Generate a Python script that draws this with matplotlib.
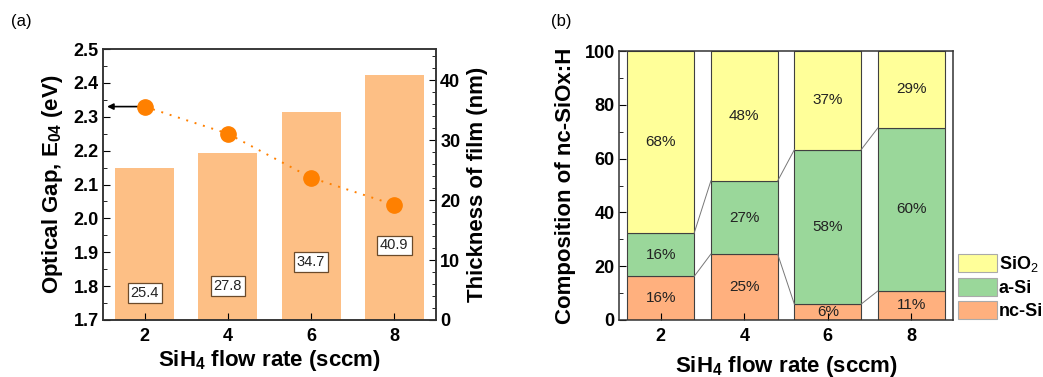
import numpy as np
import matplotlib
matplotlib.use("Agg")
import matplotlib.pyplot as plt
from matplotlib.ticker import MultipleLocator

plt.rcParams["font.family"] = ["Liberation Sans", "DejaVu Sans"]
plt.rcParams["mathtext.fontset"] = "custom"
plt.rcParams["mathtext.rm"] = "Liberation Sans"
plt.rcParams["mathtext.bf"] = "Liberation Sans:bold"

# (a) optical gap and thickness
flow = [2, 4, 6, 8]
e04 = [2.33, 2.25, 2.12, 2.04]
thickness = [25.4, 27.8, 34.7, 40.9]
thick_labels = ["25.4", "27.8", "34.7", "40.9"]
label_y = [1.78, 1.80, 1.87, 1.92]  # where the boxed values sit (left axis units)

# (b) composition
nc_si = [16.2, 24.5, 5.9, 10.8]
a_si = [16.1, 27.2, 57.4, 60.6]
sio2 = [100 - n - a for n, a in zip(nc_si, a_si)]
nc_lab = ["16%", "25%", "6%", "11%"]
a_lab = ["16%", "27%", "58%", "60%"]
sio2_lab = ["68%", "48%", "37%", "29%"]

BAR_C = "#fdbf85"
DOT_C = "#ff8000"
Y_C, G_C, O_C = "#ffff99", "#9ad79a", "#ffb07e"
EDGE = "#404040"
LBL = 16
TCK = 13

fig = plt.figure(figsize=(10.43, 3.77), dpi=100)
ax1 = fig.add_axes([0.0988, 0.1512, 0.3192, 0.7188])
ax2 = fig.add_axes([0.5935, 0.1512, 0.3202, 0.7135])


def style(ax):
    for s in ax.spines.values():
        s.set_linewidth(1.1)
        s.set_color("#333333")
    for lab in ax.get_xticklabels() + ax.get_yticklabels():
        lab.set_fontweight("bold")


# ---- panel (a)
ax1r = ax1.twinx()
ax1.set_zorder(ax1r.get_zorder() + 1)
ax1.patch.set_visible(False)
ax1r.bar(flow, thickness, width=1.42, color=BAR_C, edgecolor="none")
ax1r.set_ylim(0, 45.2)
ax1r.yaxis.set_major_locator(MultipleLocator(10))
ax1r.yaxis.set_minor_locator(MultipleLocator(2))
ax1r.tick_params(axis="y", which="major", direction="in", length=5, labelsize=TCK, pad=3)
ax1r.tick_params(axis="y", which="minor", direction="in", length=3)
ax1r.set_ylabel("Thickness of film (nm)", fontsize=LBL, fontweight="bold", labelpad=5)

ax1.plot(flow, e04, color=DOT_C, lw=1.4, dashes=(1, 3.5))
ax1.plot(flow, e04, "o", color=DOT_C, ms=11, zorder=5)
ax1.annotate("", xy=(1.03, e04[0]), xytext=(flow[0] - 0.1, e04[0]),
             arrowprops=dict(arrowstyle="-|>", color="black", lw=1.2, mutation_scale=9))
for x, y, t in zip(flow, label_y, thick_labels):
    ax1.text(x, y, t, ha="center", va="center", fontsize=10.5, color="#222222",
             bbox=dict(boxstyle="square,pad=0.2", fc="white", ec="#6b4a2a", lw=0.9))
ax1.set_xlim(1.0, 9.0)
ax1.set_ylim(1.7, 2.5)
ax1.set_xticks(flow)
ax1.yaxis.set_major_locator(MultipleLocator(0.1))
ax1.yaxis.set_minor_locator(MultipleLocator(0.05))
ax1.tick_params(axis="both", which="major", direction="in", length=5, labelsize=TCK, pad=3)
ax1.tick_params(axis="x", pad=6)
ax1.tick_params(axis="y", which="minor", direction="in", length=3)
ax1.set_ylabel("Optical Gap, E$_{\\mathbf{04}}$ (eV)", fontsize=LBL, fontweight="bold", labelpad=6)
ax1.set_xlabel("SiH$_{\\mathbf{4}}$ flow rate (sccm)", fontsize=LBL, fontweight="bold", labelpad=2)
style(ax1)
style(ax1r)
fig.text(0.011, 0.93, "(a)", fontsize=12)

# ---- panel (b)
w = 1.6
b1 = ax2.bar(flow, nc_si, width=w, color=O_C, edgecolor=EDGE, lw=0.8, label="nc-Si")
bot2 = nc_si
b2 = ax2.bar(flow, a_si, width=w, bottom=bot2, color=G_C, edgecolor=EDGE, lw=0.8, label="a-Si")
bot3 = [n + a for n, a in zip(nc_si, a_si)]
b3 = ax2.bar(flow, sio2, width=w, bottom=bot3, color=Y_C, edgecolor=EDGE, lw=0.8, label="SiO$_2$")

# connect lines between stacked columns
for tops in (nc_si, bot3):
    for i in range(len(flow) - 1):
        ax2.plot([flow[i] + w / 2, flow[i + 1] - w / 2], [tops[i], tops[i + 1]],
                 color="#777777", lw=0.7)

for i, x in enumerate(flow):
    ax2.text(x, max(nc_si[i] / 2, 2.6), nc_lab[i], ha="center", va="center", fontsize=11, color="#222222")
    ax2.text(x, nc_si[i] + a_si[i] / 2, a_lab[i], ha="center", va="center", fontsize=11, color="#222222")
    ax2.text(x, bot3[i] + sio2[i] / 2, sio2_lab[i], ha="center", va="center", fontsize=11, color="#222222")

ax2.set_xlim(1.0, 9.0)
ax2.set_ylim(0, 100)
ax2.set_xticks(flow)
ax2.yaxis.set_major_locator(MultipleLocator(20))
ax2.yaxis.set_minor_locator(MultipleLocator(10))
ax2.tick_params(axis="both", which="major", direction="in", length=5, labelsize=TCK, pad=3)
ax2.tick_params(axis="x", pad=6)
ax2.tick_params(axis="y", which="minor", direction="in", length=3)
ax2.set_ylabel("Composition of nc-SiOx:H", fontsize=LBL, fontweight="bold", labelpad=6)
ax2.set_xlabel("SiH$_{\\mathbf{4}}$ flow rate (sccm)", fontsize=LBL, fontweight="bold", labelpad=6)
style(ax2)
fig.text(0.528, 0.93, "(b)", fontsize=12)

leg = ax2.legend(handles=[b3, b2, b1], loc="lower left", bbox_to_anchor=(1.016, 0.0),
                 frameon=False, prop=dict(weight="bold", size=13),
                 handlelength=2.15, handleheight=1.2, handletextpad=0.1, labelspacing=0.2,
                 borderaxespad=0.0, borderpad=0.0)
for p in leg.get_patches():
    p.set_edgecolor("#aaaaaa")

fig.savefig("out.png", dpi=100)
